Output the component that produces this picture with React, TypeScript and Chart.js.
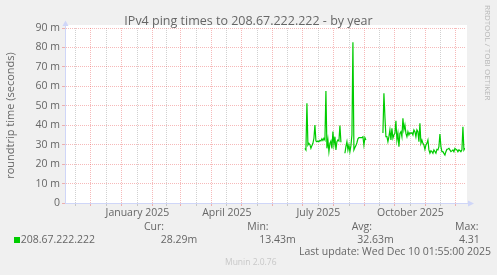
import React, { useEffect, useRef } from "react";
import { Chart, registerables } from "chart.js";

Chart.register(...registerables);

// ---------- text ----------
const TITLE = "IPv4 ping times to 208.67.222.222 - by year";
const Y_TITLE = "roundtrip time (seconds)";
const SERIES_NAME = "208.67.222.222";
const STAT_HEADERS = ["Cur:", "Min:", "Avg:", "Max:"];
const STAT_VALUES = ["28.29m", "13.43m", "32.63m", "4.31"];
const LAST_UPDATE = "Last update: Wed Dec 10 01:55:00 2025";
const WATERMARK = "RRDTOOL / TOBI OETIKER";
const FOOTER = "Munin 2.0.76";

// ---------- axis ----------
// x values are days counted from 1 Dec 2024 (one sample per day)
const X_MIN_DAY = -25.92; // ~5 Nov 2024
const X_MAX_DAY = 374.08; // 10 Dec 2025 01:55
const Y_MIN = 0;
const Y_MAX = 90;
const Y_STEP = 5;
const LABEL_MONTHS = ["2025-01", "2025-04", "2025-07", "2025-10"];
const LABEL_TEXTS = ["January 2025", "April 2025", "July 2025", "October 2025"];

// ---------- data (ms, daily averages) ----------
const SEGMENT_START_DAYS = [214, 254, 292];
const segment1Ms = [
  28.1, 27.3, 51.3, 29.8, 30.7, 30.0, 28.1, 29.5, 30.7, 33.3, 40.1, 31.9, 31.5,
  31.9, 31.5, 32.2, 31.9, 33.0, 32.2, 33.3, 32.4, 57.6, 28.1, 32.5, 26.4, 30.7,
  31.9, 28.1, 36.7, 30.0, 34.1, 27.3, 31.5, 32.4, 31.9, 39.8, 31.2,
];
const segment2Ms = [
  25.6, 29.0, 31.5, 27.3, 29.8, 26.4, 29.5, 35.0, 82.7, 27.3, 28.5, 29.5, 31.0,
  33.0, 33.6, 33.6, 33.6, 33.6, 34.1, 29.8, 33.6, 32.4,
];
const segment3Ms = [
  36.0, 56.4, 44.4, 34.1, 34.1, 31.5, 34.1, 37.6, 32.4, 38.4, 33.3, 35.0, 35.8,
  42.3, 32.4, 35.8, 29.0, 35.8, 36.7, 34.1, 43.6, 37.6, 40.1, 35.8, 34.1, 36.7,
  35.0, 36.2, 35.8, 36.2, 35.0, 37.6, 36.7, 34.1, 37.6, 36.7, 31.5, 41.0, 30.7,
  32.4, 30.7, 29.8, 27.6, 29.8, 30.7, 32.4, 27.3, 25.6, 26.9, 26.4, 25.6, 27.3,
  26.5, 25.6, 27.6, 27.3, 29.0, 35.5, 29.0, 26.4, 26.4, 25.5, 24.7, 26.4, 27.6,
  27.8, 28.1, 27.3, 26.4, 26.8, 27.3, 26.4, 28.1, 27.6, 27.3, 26.4, 27.3, 27.0,
  26.4, 27.3, 39.2, 27.3, 28.3,
];
const SEGMENTS = [segment1Ms, segment2Ms, segment3Ms];

// ---------- style ----------
const FONT_FAMILY = '"Open Sans", "Noto Sans", sans-serif';
const TEXT_COLOR = "#666666";
const LINE_COLOR = "#00CC00";
const AXIS_COLOR = "#CFD6F8";
const MAJOR_GRID = "rgba(230,60,60,0.36)";
const MINOR_GRID = "rgba(128,128,128,0.36)";

function buildPoints() {
  const pts: { x: number; y: number | null }[] = [];
  SEGMENTS.forEach((seg, s) => {
    const start = SEGMENT_START_DAYS[s];
    seg.forEach((v, i) => pts.push({ x: start + i, y: v }));
    if (s < SEGMENTS.length - 1) {
      const end = start + seg.length - 1;
      pts.push({ x: (end + SEGMENT_START_DAYS[s + 1]) / 2, y: null });
    }
  });
  return pts;
}

function buildXTicks() {
  const base = Date.UTC(2024, 11, 1);
  const dayOf = (y: number, m: number) => (Date.UTC(y, m, 1) - base) / 86400000;
  const majors: number[] = [];
  const minors: number[] = [];
  const labels = new Map<number, string>();
  for (let k = -2; k <= 13; k++) {
    const s = dayOf(2024, 11 + k);
    const e = dayOf(2024, 12 + k);
    const mid = (s + e) / 2;
    majors.push(s);
    minors.push(mid);
    const d = new Date(Date.UTC(2024, 11 + k, 1));
    const key = `${d.getUTCFullYear()}-${String(d.getUTCMonth() + 1).padStart(2, "0")}`;
    const li = LABEL_MONTHS.indexOf(key);
    if (li >= 0) labels.set(mid, LABEL_TEXTS[li]);
  }
  const inRange = (v: number) => v >= X_MIN_DAY && v <= X_MAX_DAY;
  const all = [...majors, ...minors].filter(inRange).sort((a, b) => a - b);
  return { all, majorSet: new Set(majors), labels };
}

const muninPlugin = {
  id: "muninFrame",
  beforeDraw(chart: any) {
    const { ctx, chartArea: a, width, height } = chart;
    ctx.save();
    ctx.fillStyle = "#F0F0F0";
    ctx.fillRect(0, 0, width, height);
    ctx.fillStyle = "#FFFFFF";
    ctx.fillRect(a.left, a.top - 3, a.right - a.left + 2, a.bottom - a.top + 3);
    ctx.restore();
  },
  afterDraw(chart: any) {
    const { ctx, chartArea: a, width } = chart;
    ctx.save();
    // axis extensions and arrows
    const ax = Math.round(a.left) + 0.5;
    const ay = Math.round(a.bottom) + 0.5;
    ctx.strokeStyle = AXIS_COLOR;
    ctx.fillStyle = AXIS_COLOR;
    ctx.lineWidth = 1;
    ctx.beginPath();
    ctx.moveTo(ax, a.top);
    ctx.lineTo(ax, a.top - 3);
    ctx.moveTo(a.right, ay);
    ctx.lineTo(a.right + 4, ay);
    ctx.stroke();
    ctx.beginPath();
    ctx.moveTo(ax - 3, a.top - 2);
    ctx.lineTo(ax, a.top - 7.5);
    ctx.lineTo(ax + 3, a.top - 2);
    ctx.closePath();
    ctx.fill();
    ctx.beginPath();
    ctx.moveTo(a.right + 3, ay - 3);
    ctx.lineTo(a.right + 9, ay);
    ctx.lineTo(a.right + 3, ay + 3);
    ctx.closePath();
    ctx.fill();

    // title
    ctx.fillStyle = TEXT_COLOR;
    ctx.textBaseline = "middle";
    ctx.textAlign = "center";
    ctx.font = `12.5px ${FONT_FAMILY}`;
    ctx.fillText(TITLE, width / 2, 21);

    // legend
    ctx.fillStyle = LINE_COLOR;
    ctx.fillRect(14, 237, 6, 6);
    ctx.fillStyle = TEXT_COLOR;
    ctx.font = `10.5px ${FONT_FAMILY}`;
    ctx.textAlign = "left";
    ctx.fillText(SERIES_NAME, 20.7, 240);
    const headX = [144, 247.3, 351.7, 455];
    const valX = [160.7, 259.3, 357.3, 459];
    STAT_HEADERS.forEach((h, i) => ctx.fillText(h, headX[i], 227.5));
    STAT_VALUES.forEach((v, i) => ctx.fillText(v, valX[i], 240));
    ctx.fillText(LAST_UPDATE, 299, 252);

    ctx.fillStyle = "#C8C8C8";
    ctx.font = `8.5px ${FONT_FAMILY}`;
    ctx.fillText(FOOTER, 225, 263);

    ctx.translate(487.5, 5);
    ctx.rotate(Math.PI / 2);
    ctx.fillStyle = "#B8B8B8";
    ctx.font = `8px ${FONT_FAMILY}`;
    ctx.fillText(WATERMARK, 0, 0);
    ctx.restore();
  },
};

export default function App() {
  const canvasRef = useRef<HTMLCanvasElement | null>(null);

  useEffect(() => {
    const canvas = canvasRef.current;
    if (!canvas) return;
    const { all, majorSet, labels } = buildXTicks();
    const tickFont = { family: FONT_FAMILY, size: 10.5, weight: "normal" as const };

    const chart = new Chart(canvas, {
      type: "line",
      data: {
        datasets: [
          {
            label: SERIES_NAME,
            data: buildPoints() as any,
            borderColor: LINE_COLOR,
            borderWidth: 1.2,
            pointRadius: 0,
            tension: 0,
            spanGaps: false,
            fill: false,
          },
        ],
      },
      options: {
        responsive: false,
        animation: false,
        devicePixelRatio: 1,
        parsing: false,
        normalized: true,
        layout: { padding: { left: 0, right: 32, top: 28, bottom: 52 } },
        plugins: {
          legend: { display: false },
          tooltip: { enabled: false },
          title: { display: false },
        },
        scales: {
          x: {
            type: "linear",
            min: X_MIN_DAY,
            max: X_MAX_DAY,
            afterBuildTicks: (s: any) => {
              s.ticks = all.map((v) => ({ value: v }));
            },
            afterFit: (s: any) => {
              s.height = 20;
            },
            ticks: {
              autoSkip: false,
              maxRotation: 0,
              minRotation: 0,
              color: TEXT_COLOR,
              font: tickFont,
              padding: 1,
              callback: (v: any) => labels.get(Number(v)) ?? "",
            },
            grid: {
              color: (c: any) => (majorSet.has(c.tick?.value) ? MAJOR_GRID : MINOR_GRID),
              lineWidth: 1,
              tickLength: 3,
              drawTicks: true,
            },
            border: { display: true, color: AXIS_COLOR, width: 1, dash: [1, 1] },
          },
          y: {
            min: Y_MIN,
            max: Y_MAX,
            afterFit: (s: any) => {
              s.width = 65;
            },
            ticks: {
              stepSize: Y_STEP,
              color: TEXT_COLOR,
              font: tickFont,
              padding: 2,
              callback: (v: any) =>
                Number(v) % 10 === 0 ? (Number(v) === 0 ? "0" : `${v} m`) : "",
            },
            grid: {
              color: (c: any) => (c.tick && c.tick.value % 10 === 0 ? MAJOR_GRID : MINOR_GRID),
              lineWidth: 1,
              tickLength: 3,
              drawTicks: true,
            },
            border: { display: true, color: AXIS_COLOR, width: 1, dash: [1, 1] },
            title: {
              display: true,
              text: Y_TITLE,
              color: TEXT_COLOR,
              font: { family: FONT_FAMILY, size: 11, weight: "normal" },
              padding: { top: 4, bottom: 0 },
            },
          },
        },
      },
      plugins: [muninPlugin],
    });
    return () => chart.destroy();
  }, []);

  return (
    <div style={{ position: "absolute", left: 0, top: 0, width: 497, height: 275 }}>
      <canvas ref={canvasRef} width={497} height={275} style={{ display: "block" }} />
    </div>
  );
}
